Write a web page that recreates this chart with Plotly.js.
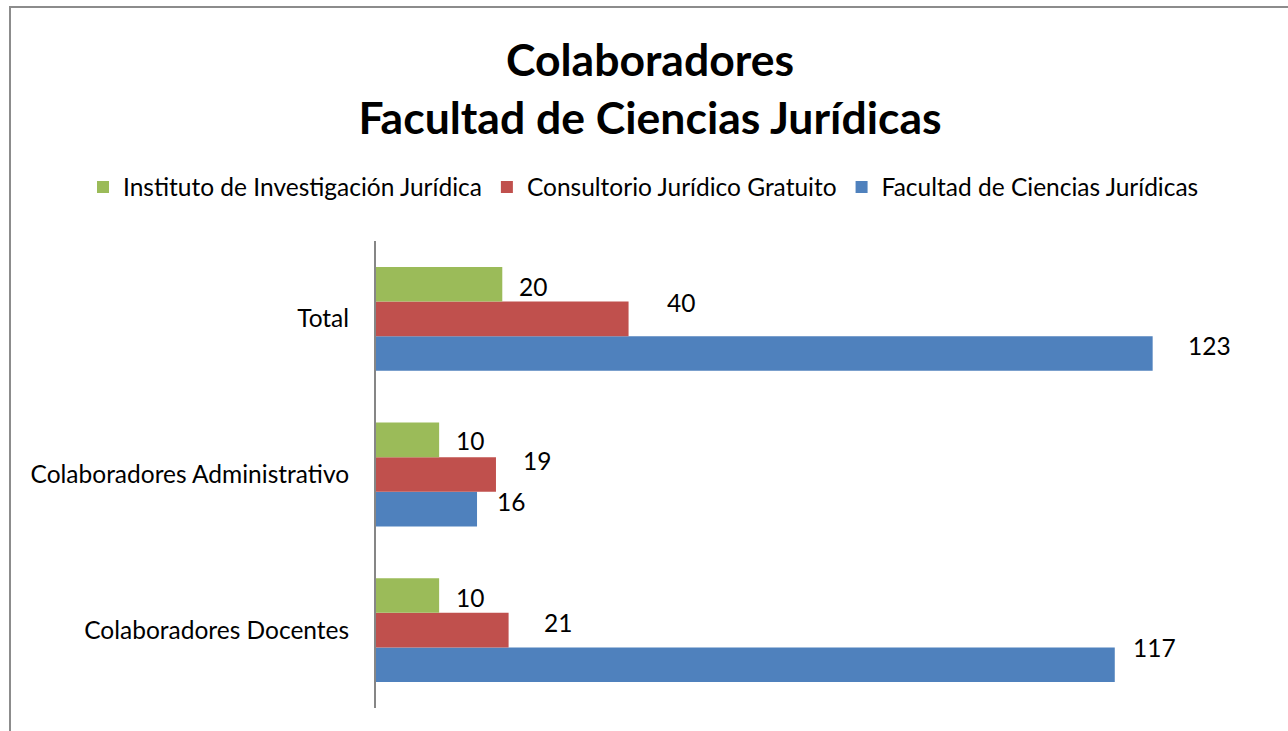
<!DOCTYPE html>
<html>
<head>
<meta charset="utf-8">
<script src="https://cdn.plot.ly/plotly-3.0.1.min.js"></script>
<style>
html,body{margin:0;padding:0;background:#fff;overflow:hidden;}
#wrap{position:relative;width:1288px;height:731px;}
#chart{width:1288px;height:731px;}
#frame{position:absolute;left:9px;top:6px;width:1400px;height:900px;border:2px solid #8c8c8c;pointer-events:none;box-sizing:border-box;}
</style>
</head>
<body>
<div id="wrap"><div id="chart"></div><div id="frame"></div></div>
<script>
const categories = ["Colaboradores Docentes", "Colaboradores Administrativo", "Total"];
const seriesNames = ["Facultad de Ciencias Jurídicas", "Consultorio Jurídico Gratuito", "Instituto de Investigación Jurídica"];
const facultad = [117, 16, 123];
const consultorio = [21, 19, 40];
const instituto = [10, 10, 20];

const colors = ["#4F81BD", "#C0504D", "#9BBB59"];
// label offsets (pixels) per series / category: [xshift, yshift]
const labelShift = [
  [[16, 17], [18, 8], [33, 8]],
  [[33, 8], [25, 14], [36, 16]],
  [[15, -2], [15, -1], [15, -2]]
];

const values = [facultad, consultorio, instituto];
const FONT = "Lato, 'Open Sans', sans-serif";
const TXT = 24.5;
const bargap = 0.333;
const barW = (1 - bargap) / 3;

const traces = values.map((v, s) => ({
  type: "bar",
  orientation: "h",
  name: seriesNames[s],
  x: v,
  y: categories,
  marker: {color: colors[s]},
  hoverinfo: "x+name"
}));

const annotations = [];
values.forEach((v, s) => {
  v.forEach((val, c) => {
    annotations.push({
      x: val,
      y: c + (s - 1) * barW,
      xref: "x", yref: "y",
      text: String(val),
      showarrow: false,
      xanchor: "left", yanchor: "middle",
      xshift: labelShift[s][c][0],
      yshift: labelShift[s][c][1],
      font: {family: FONT, size: TXT, color: "#000"}
    });
  });
});

const M = {l: 376, r: 28, t: 241, b: 23};
const plotW = 1288 - M.l - M.r;
const plotH = 731 - M.t - M.b;

const layout = {
  width: 1288, height: 731,
  paper_bgcolor: "#fff", plot_bgcolor: "#fff",
  margin: M,
  barmode: "group",
  bargap: bargap,
  bargroupgap: 0,
  title: {
    text: "<b>Colaboradores</b><br><b>Facultad de Ciencias Jurídicas</b>",
    font: {family: FONT, size: 44.5, color: "#000"},
    x: 650 / 1288, xanchor: "center", xref: "container",
    y: 1 - 76 / 731, yanchor: "middle", yref: "container"
  },
  legend: {
    orientation: "h",
    traceorder: "reversed",
    xref: "paper", yref: "paper",
    x: (83 - M.l) / plotW, xanchor: "left",
    y: (731 - M.b - 187) / plotH, yanchor: "middle",
    font: {family: FONT, size: TXT, color: "#000"},
    itemwidth: 30
  },
  xaxis: {
    range: [0, 140],
    showgrid: false, zeroline: false, showline: false,
    showticklabels: false, ticks: "", fixedrange: true
  },
  yaxis: {
    type: "category",
    categoryorder: "array", categoryarray: categories,
    showgrid: false, zeroline: false,
    showline: true, linecolor: "#868686", linewidth: 2,
    ticks: "", ticklabelstandoff: 20,
    tickfont: {family: FONT, size: TXT, color: "#000"},
    fixedrange: true
  },
  annotations: annotations,
  showlegend: true
};

Plotly.newPlot("chart", traces, layout, {displayModeBar: false, staticPlot: true});
</script>
</body>
</html>
